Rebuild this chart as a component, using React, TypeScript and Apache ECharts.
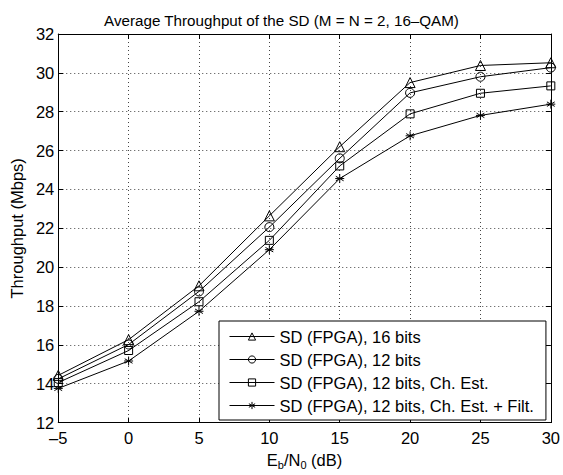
import React, { useEffect, useRef } from "react";
import * as echarts from "echarts";

const snr = [-5, 0, 5, 10, 15, 20, 25, 30];
const fpga16 = [14.43, 16.27, 19.04, 22.64, 26.2, 29.5, 30.38, 30.52];
const fpga12 = [14.25, 16.02, 18.75, 22.06, 25.6, 28.97, 29.8, 30.27];
const fpga12ChEst = [14.06, 15.71, 18.22, 21.38, 25.21, 27.89, 28.95, 29.33];
const fpga12ChEstFilt = [13.76, 15.17, 17.73, 20.9, 24.56, 26.76, 27.81, 28.39];
const seriesNames = [
  "SD (FPGA), 16 bits",
  "SD (FPGA), 12 bits",
  "SD (FPGA), 12 bits, Ch. Est.",
  "SD (FPGA), 12 bits, Ch. Est. + Filt.",
];

const FONT = "'Liberation Sans', Arial, Helvetica, sans-serif";
const FS = 16.5;
const ASTERISK =
  "path://M0,-5L0,5M-4.33,-2.5L4.33,2.5M-4.33,2.5L4.33,-2.5M-5,0L5,0";

export default function App() {
  const ref = useRef<HTMLDivElement>(null);
  useEffect(() => {
    if (!ref.current) return;
    const chart = echarts.init(ref.current, undefined, { renderer: "svg" });
    const fmt = (v: number) => (v < 0 ? "–" + Math.abs(v) : String(v));
    const mk = (name: string, vals: number[], symbol: string, size: number) => ({
      name,
      type: "line",
      data: snr.map((x, i) => [x, vals[i]]),
      symbol,
      symbolSize: size,
      showSymbol: true,
      lineStyle: { color: "#000", width: 1 },
      itemStyle: { color: "rgba(0,0,0,0)", borderColor: "#000", borderWidth: 1 },
      emphasis: { disabled: true },
    });
    const axisCommon = {
      axisLine: { show: true, onZero: false, lineStyle: { color: "#000", width: 1 } },
      axisTick: { show: true, inside: true, length: 5, lineStyle: { color: "#000" } },
    };
    chart.setOption({
      animation: false,
      backgroundColor: "#fff",
      textStyle: { fontFamily: FONT },
      title: {
        text: "Average Throughput of the SD (M = N = 2, 16–QAM)",
        left: "center",
        top: 8,
        textStyle: { fontFamily: FONT, fontSize: 15.2, fontWeight: "normal", color: "#000" },
      },
      grid: { left: 54, top: 34, right: 10, bottom: 48, show: false },
      legend: {
        orient: "vertical",
        left: 219,
        top: 321,
        data: seriesNames,
        itemWidth: 45,
        itemHeight: 9,
        itemGap: 6,
        padding: [7, 12, 6, 10],
        borderColor: "#000",
        borderWidth: 1,
        backgroundColor: "#fff",
        lineStyle: { width: 1, color: "#000" },
        itemStyle: { borderWidth: 1, borderColor: "#000", color: "rgba(0,0,0,0)" },
        textStyle: { fontFamily: FONT, fontSize: FS, lineHeight: 16, color: "#000" },
      },
      xAxis: [
        {
          type: "value",
          min: -5,
          max: 30,
          interval: 5,
          position: "bottom",
          name: "{a|E}{s|b}{a|/N}{s|0}{a| (dB)}",
          nameLocation: "middle",
          nameGap: 22,
          nameTextStyle: {
            rich: {
              a: { fontFamily: FONT, fontSize: FS, color: "#000" },
              s: { fontFamily: FONT, fontSize: 11, color: "#000", padding: [9, 0, 0, 0] },
            },
          },
          ...axisCommon,
          axisLabel: { margin: 7, fontSize: FS, color: "#000", fontFamily: FONT, formatter: fmt },
          splitLine: { show: true, lineStyle: { color: "#444", type: [1, 3], width: 1 } },
        },
        {
          type: "value",
          min: -5,
          max: 30,
          interval: 5,
          position: "top",
          ...axisCommon,
          axisLabel: { show: false },
          splitLine: { show: false },
        },
      ],
      yAxis: [
        {
          type: "value",
          min: 12,
          max: 32,
          interval: 2,
          position: "left",
          name: "Throughput (Mbps)",
          nameLocation: "middle",
          nameGap: 29,
          nameTextStyle: { fontFamily: FONT, fontSize: FS, color: "#000" },
          ...axisCommon,
          axisLabel: { margin: 4, fontSize: FS, color: "#000", fontFamily: FONT },
          splitLine: { show: true, lineStyle: { color: "#444", type: [1, 3], width: 1 } },
        },
        {
          type: "value",
          min: 12,
          max: 32,
          interval: 2,
          position: "right",
          ...axisCommon,
          axisLabel: { show: false },
          splitLine: { show: false },
        },
      ],
      series: [
        mk(seriesNames[0], fpga16, "triangle", 10),
        mk(seriesNames[1], fpga12, "circle", 9),
        mk(seriesNames[2], fpga12ChEst, "rect", 8),
        mk(seriesNames[3], fpga12ChEstFilt, ASTERISK, 9),
      ],
    });
    return () => chart.dispose();
  }, []);
  return (
    <div
      ref={ref}
      style={{ position: "fixed", left: 0, top: 0, width: 563, height: 475, background: "#fff" }}
    />
  );
}
